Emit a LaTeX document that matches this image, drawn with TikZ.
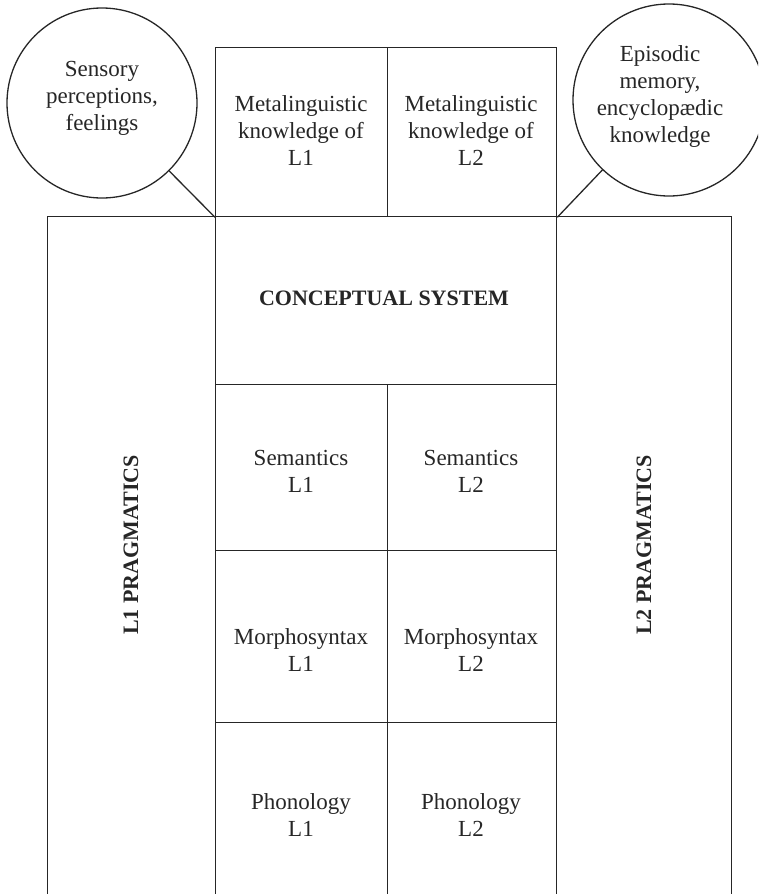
\documentclass[tikz,border=0pt]{standalone}
\usepackage{fontspec}
\setmainfont{Liberation Serif}
\begin{document}
\begin{tikzpicture}[x=1pt,y=-1pt,
  box/.style={draw=black!85, line width=1.3pt, inner sep=0pt, anchor=north west},
  ring/.style={draw=black!85, line width=1.3pt, circle, inner sep=0pt},
  link/.style={draw=black!85, line width=1.3pt},
  txt/.style={font=\fontsize{23}{27}\selectfont, align=center, inner sep=0pt, text=black!85},
  boldtxt/.style={font=\fontsize{22}{26}\selectfont\bfseries, align=center, inner sep=0pt, text=black!85}]
\useasboundingbox (0,0) rectangle (758,894);
\clip (0,0) rectangle (758,894);
% side columns
\node[box, minimum width=168pt, minimum height=690pt] (lp) at (47,216) {};
\node[box, minimum width=175pt, minimum height=690pt] (rp) at (556,216) {};
% top boxes
\node[box, minimum width=172pt, minimum height=169pt] (m1) at (215,47) {};
\node[box, minimum width=169pt, minimum height=169pt] (m2) at (387,47) {};
% central column
\node[box, minimum width=341pt, minimum height=168pt] (cs) at (215,216) {};
\node[box, minimum width=172pt, minimum height=166pt] (s1) at (215,384) {};
\node[box, minimum width=169pt, minimum height=166pt] (s2) at (387,384) {};
\node[box, minimum width=172pt, minimum height=172pt] (ms1) at (215,550) {};
\node[box, minimum width=169pt, minimum height=172pt] (ms2) at (387,550) {};
\node[box, minimum width=172pt, minimum height=185pt] (ph1) at (215,722) {};
\node[box, minimum width=169pt, minimum height=185pt] (ph2) at (387,722) {};
% circles
\node[ring, minimum size=190pt] (c1) at (102,103) {};
\node[ring, minimum size=192pt] (c2) at (669,100) {};
\draw[link] (c1) -- (m1.south west);
\draw[link] (c2) -- (m2.south east);
% texts
\node[txt] (t1) at (102,98) {Sensory\\perceptions,\\feelings};
\node[txt] (t2) at (660,97) {Episodic\\memory,\\encyclopædic\\knowledge};
\node[txt] (t3) at (301,131) {Metalinguistic\\knowledge of\\L1};
\node[txt] (t4) at (471,131) {Metalinguistic\\knowledge of\\L2};
\node[boldtxt] (t5) at (384,298) {CONCEPTUAL SYSTEM};
\node[txt] (t6) at (301,471) {Semantics\\L1};
\node[txt] (t7) at (471,471) {Semantics\\L2};
\node[txt] (t8) at (301,650) {Morphosyntax\\L1};
\node[txt] (t9) at (471,650) {Morphosyntax\\L2};
\node[txt] (t10) at (301,815) {Phonology\\L1};
\node[txt] (t11) at (471,815) {Phonology\\L2};
\node[boldtxt, rotate=90] (t12) at (131,545) {L1 PRAGMATICS};
\node[boldtxt, rotate=90] (t13) at (644,545) {L2 PRAGMATICS};
\end{tikzpicture}
\end{document}
